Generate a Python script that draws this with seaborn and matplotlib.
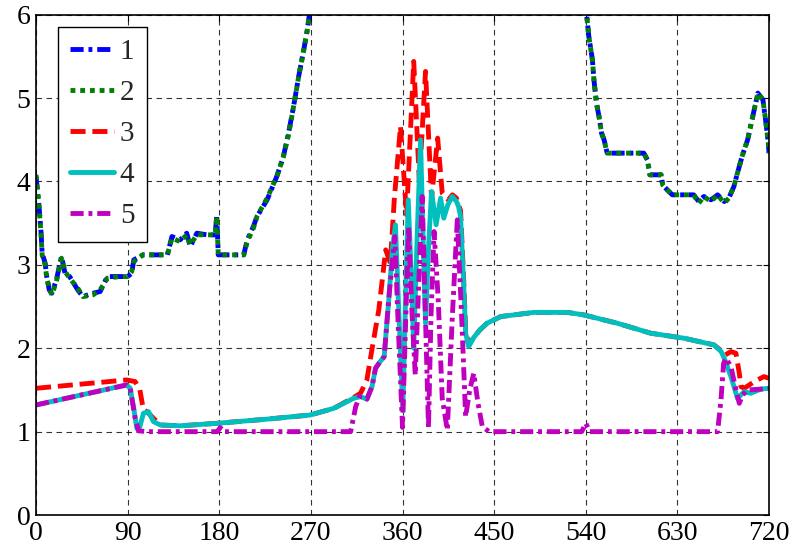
import numpy as np
import pandas as pd
import matplotlib
matplotlib.use('Agg')
import matplotlib.pyplot as plt
import seaborn as sns

# ==========================================
# Data
# ==========================================
# series 1 and 2 (almost identical); values above 6 lie off the top of the chart
x12 = [0, 3, 5, 6, 9, 10.5, 13, 15.5, 20, 25, 28.5, 33, 41, 46, 56, 63, 70, 82, 90, 94, 96,
       105, 115, 129, 133.5, 141.5, 148, 151.5, 158, 168, 176, 177.5, 179, 187.5, 204, 207.5,
       213.5, 217, 227, 236.5, 243, 248, 253, 258, 263, 266.5, 268.5, 275, 400, 530, 536,
       541, 543, 546.5, 548, 550.5, 553, 555.5, 558, 561, 597, 600.5, 603, 614, 615.5, 620,
       625, 646, 651, 656, 663, 669.5, 676, 680.5, 685.5, 688.5, 694, 699, 704, 709, 714,
       717, 719.3, 720]
y1 = [4.06, 3.70, 3.38, 3.14, 3.02, 2.86, 2.70, 2.66, 2.82, 3.10, 2.90, 2.86, 2.70, 2.62, 2.66,
      2.68, 2.86, 2.86, 2.86, 2.90, 3.06, 3.12, 3.12, 3.12, 3.34, 3.30, 3.38, 3.22, 3.38, 3.36,
      3.36, 3.60, 3.12, 3.12, 3.12, 3.30, 3.46, 3.58, 3.78, 4.06, 4.30, 4.58, 4.90, 5.26, 5.58,
      5.82, 6.00, 6.60, 9.0, 9.0, 6.50, 5.98, 5.74, 5.46, 5.22, 4.94, 4.78, 4.58, 4.50, 4.34,
      4.34, 4.26, 4.08, 4.08, 3.96, 3.90, 3.84, 3.84, 3.76, 3.82, 3.78, 3.84, 3.76, 3.80, 3.94,
      4.08, 4.32, 4.50, 4.78, 5.06, 4.98, 4.70, 4.46, 4.34]
y2 = [4.08, 3.68, 3.36, 3.12, 3.00, 2.84, 2.72, 2.64, 2.80, 3.08, 2.92, 2.84, 2.72, 2.62, 2.64,
      2.70, 2.84, 2.86, 2.86, 2.92, 3.04, 3.12, 3.12, 3.12, 3.32, 3.28, 3.36, 3.24, 3.36, 3.36,
      3.36, 3.58, 3.12, 3.12, 3.12, 3.28, 3.44, 3.58, 3.80, 4.06, 4.30, 4.56, 4.90, 5.26, 5.58,
      5.82, 6.00, 6.60, 9.0, 9.0, 6.50, 5.98, 5.74, 5.46, 5.22, 4.94, 4.78, 4.58, 4.50, 4.34,
      4.34, 4.26, 4.08, 4.08, 3.96, 3.90, 3.84, 3.84, 3.74, 3.82, 3.76, 3.84, 3.74, 3.80, 3.94,
      4.08, 4.32, 4.50, 4.78, 5.06, 4.98, 4.70, 4.46, 4.34]

# series 3
x3 = [0, 89, 97.4, 102, 105.5, 109, 115.4, 122, 141.6, 177.7, 227, 269.5, 292.6, 312, 318.7,
      325, 328.5, 331, 336.7, 341.6, 343.5, 348, 352, 358, 364, 371, 376.5, 382.6, 388.5,
      394.5, 399, 405, 409, 413, 417, 420, 422, 425, 430, 436, 443, 456.4, 489, 522, 538,
      571, 604, 636.7, 666, 673, 677, 682.6, 687.5, 690.8, 692.4, 695.7, 705.5, 715, 720]
y3 = [1.52, 1.62, 1.60, 1.50, 1.26, 1.24, 1.16, 1.08, 1.07, 1.10, 1.15, 1.20, 1.28, 1.41, 1.46,
      1.62, 1.88, 2.06, 2.46, 2.98, 3.18, 3.02, 3.80, 4.66, 3.60, 5.44, 4.00, 5.32, 3.80,
      4.52, 3.86, 3.78, 3.84, 3.80, 3.65, 2.85, 2.22, 2.04, 2.13, 2.22, 2.30, 2.38, 2.43, 2.43,
      2.40, 2.30, 2.18, 2.12, 2.04, 1.97, 1.92, 1.96, 1.94, 1.70, 1.54, 1.52, 1.60, 1.66, 1.64]

# series 4
x4 = [0, 89, 92.5, 95.7, 99, 102, 105.5, 110.5, 115.4, 122, 141.6, 177.7, 227, 269.5, 292.6,
      312, 318.7, 325, 330, 333.5, 338, 342, 346.5, 350, 353, 356.5, 360.3, 363, 365.6, 368.5,
      371, 374, 377.7, 380, 382.6, 385.5, 388.5, 393, 397.4, 400.5, 404.5, 408.8, 413, 415,
      417, 420, 422, 425, 430, 436, 443, 456.4, 489, 522, 538, 571, 604, 636.7, 666, 673,
      676, 682.6, 689, 695.7, 702, 712, 720]
y4 = [1.32, 1.56, 1.52, 1.30, 1.04, 1.06, 1.22, 1.24, 1.12, 1.08, 1.07, 1.10, 1.15, 1.20, 1.28,
      1.40, 1.42, 1.39, 1.54, 1.76, 1.84, 1.90, 2.58, 3.18, 3.48, 2.40, 1.25, 2.60, 3.78, 2.90,
      2.00, 3.20, 4.50, 3.40, 2.30, 3.20, 3.88, 3.48, 3.80, 3.56, 3.72, 3.82, 3.76, 3.70,
      3.58, 2.78, 2.18, 2.02, 2.13, 2.22, 2.30, 2.38, 2.43, 2.43, 2.40, 2.30, 2.18, 2.12, 2.04,
      1.96, 1.88, 1.66, 1.40, 1.48, 1.46, 1.51, 1.52]

# series 5
x5 = [0, 89, 92.5, 97.4, 100.6, 110, 178, 181, 184, 309, 314, 317.6, 321, 325, 330, 333.5, 338,
      342, 346.5, 352.4, 356, 360, 363, 366, 369, 372.5, 376, 379.3, 382, 385.5, 388, 391, 395,
      399, 404, 409, 413.8, 418, 422, 426, 430, 434, 438.4, 445, 536, 540, 544, 669.5, 672.8,
      675.4, 677.7, 682.6, 687.5, 690.8, 694, 699, 712, 720]
y5 = [1.32, 1.56, 1.52, 1.16, 1.01, 1.00, 1.00, 1.05, 1.00, 1.00, 1.30, 1.42, 1.42, 1.39, 1.54,
      1.76, 1.84, 1.90, 2.60, 3.34, 2.20, 1.05, 2.30, 3.46, 2.50, 1.68, 2.80, 3.82, 2.60, 1.05,
      2.40, 3.40, 2.60, 1.40, 1.02, 2.40, 3.54, 2.40, 1.18, 1.50, 1.70, 1.35, 1.06, 1.00, 1.00,
      1.10, 1.00, 1.00, 1.38, 1.82, 1.88, 1.78, 1.50, 1.34, 1.44, 1.50, 1.51, 1.52]

labels = ['1', '2', '3', '4', '5']
x_ticks = [0, 90, 180, 270, 360, 450, 540, 630, 720]
y_ticks = [0, 1, 2, 3, 4, 5, 6]

# ==========================================
# Plot
# ==========================================
sns.set_style('white')
plt.rcParams['font.family'] = ['Liberation Serif', 'DejaVu Serif']

fig = plt.figure(figsize=(7.97, 5.55), dpi=100)
ax = fig.add_axes([0.0452, 0.072, 0.9197, 0.9015])

lw = 3.5
dashdot = (0, (2.7, 1.0, 0.8, 1.0))
styles = [
    (x12, y1, 'blue', dashdot),
    (x12, y2, (0, 0.5, 0), (0, (1.0, 1.0))),
    (x3, y3, 'red', (0, (3.1, 1.4))),
    (x4, y4, (0, 0.75, 0.75), '-'),
    (x5, y5, (0.75, 0, 0.75), dashdot),
]
for (xs, ys, col, ls), lab in zip(styles, labels):
    sns.lineplot(x=xs, y=ys, ax=ax, color=col, lw=lw, linestyle=ls,
                 label=lab, estimator=None, sort=False)

ax.set_xlim(0, 720)
ax.set_ylim(0, 6)
ax.set_xticks(x_ticks)
ax.set_yticks(y_ticks)
ax.grid(True, color='black', linestyle=(0, (5, 4)), linewidth=0.8, alpha=0.8)
ax.tick_params(axis='both', labelsize=20, direction='in', length=4,
               top=True, right=True, colors='black', pad=4)
for sp in ax.spines.values():
    sp.set_visible(True)
    sp.set_color('black')
    sp.set_linewidth(1.2)

leg = ax.legend(loc='upper left', bbox_to_anchor=(0.03, 0.976), borderaxespad=0,
                fontsize=21, handlelength=1.5, handletextpad=0.2, labelspacing=0.5,
                borderpad=0.42, fancybox=False, framealpha=1, edgecolor='black')
leg.get_frame().set_linewidth(1.0)

plt.savefig('out.png', dpi=100)
plt.close()
